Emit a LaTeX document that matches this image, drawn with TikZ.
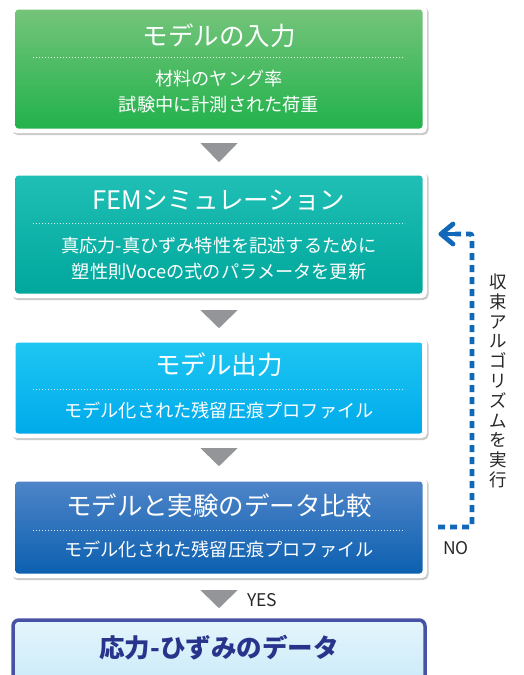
\documentclass[tikz,border=0pt]{standalone}
\usepackage{fontspec}
\setmainfont{Noto Sans CJK JP}
\usetikzlibrary{shadows,arrows.meta,calc}
\definecolor{gtop}{RGB}{116,196,122}
\definecolor{gbot}{RGB}{34,178,76}
\definecolor{ttop}{RGB}{32,191,181}
\definecolor{tbot}{RGB}{0,167,156}
\definecolor{ctop}{RGB}{30,198,242}
\definecolor{cbot}{RGB}{0,170,234}
\definecolor{btop}{RGB}{78,132,200}
\definecolor{bbot}{RGB}{12,96,176}
\definecolor{navy}{RGB}{72,82,165}
\definecolor{navytext}{RGB}{40,52,140}
\definecolor{ltop}{RGB}{228,245,252}
\definecolor{lbot}{RGB}{196,232,248}
\definecolor{trigray}{RGB}{147,149,152}
\definecolor{loopblue}{RGB}{18,104,184}
\definecolor{txtgray}{RGB}{40,40,40}
\tikzset{
  frame/.style={rounded corners=5pt, fill=white, minimum width=416pt,
    drop shadow={shadow xshift=1.5pt, shadow yshift=-2pt, opacity=0.35, fill=black!60}},
  innerbox/.style={rounded corners=3pt, minimum width=407pt},
  ttl/.style={text=white, font=\fontsize{25.5}{28}\selectfont, inner sep=0pt},
  sub/.style={text=white, font=\fontsize{18.2}{26}\selectfont, align=center, inner sep=0pt},
  sep/.style={white, line width=0.9pt, dash pattern=on 0.9pt off 2.1pt, opacity=0.85},
  tri/.style={fill=trigray},
  looppath/.style={draw=loopblue, line width=4.8pt, dash pattern=on 7pt off 5pt},
  loopsolid/.style={draw=loopblue, line width=4.8pt, line cap=round, line join=round},
  lbl/.style={text=txtgray, font=\fontsize{17.5}{20}\selectfont, inner sep=0pt}
}
\begin{document}
\begin{tikzpicture}[x=1pt,y=-1pt]
\useasboundingbox (0,0) rectangle (523,675);
\clip (0,0) rectangle (523,675);
% box 1
\node (b1) [frame, minimum height=128pt] at (219,69) {};
\node (b1i) [innerbox, top color=gtop, bottom color=gbot, minimum height=119pt] at (b1) {};
\node (t1) [ttl] at (219,36) {モデルの入力};
\draw[sep] (33,57) -- (405,57);
\node (s1) [sub] at (219,92) {材料のヤング率\\試験中に計測された荷重};
% box 2
\node (b2) [frame, minimum height=127pt] at (219,234.5) {};
\node (b2i) [innerbox, top color=ttop, bottom color=tbot, minimum height=118pt] at (b2) {};
\node (t2) [ttl] at (219,200) {FEMシミュレーション};
\draw[sep] (33,223) -- (405,223);
\node (s2) [sub] at (219,259) {真応力-真ひずみ特性を記述するために\\塑性則Voceの式のパラメータを更新};
% box 3
\node (b3) [frame, minimum height=100pt] at (219,388) {};
\node (b3i) [innerbox, top color=ctop, bottom color=cbot, minimum height=91pt] at (b3) {};
\node (t3) [ttl] at (219,365) {モデル出力};
\draw[sep] (33,389) -- (405,389);
\node (s3) [sub] at (219,410) {モデル化された残留圧痕プロファイル};
% box 4
\node (b4) [frame, minimum height=101pt] at (219,527.5) {};
\node (b4i) [innerbox, top color=btop, bottom color=bbot, minimum height=92pt] at (b4) {};
\node (t4) [ttl] at (219,506) {モデルと実験のデータ比較};
\draw[sep] (33,530) -- (405,530);
\node (s4) [sub] at (219,549) {モデル化された残留圧痕プロファイル};
% box 5
\node (b5) [draw=navy, line width=3.5pt, rounded corners=6pt, top color=ltop, bottom color=lbot,
  minimum width=412pt, minimum height=80pt,
  drop shadow={shadow xshift=1.5pt, shadow yshift=-2pt, opacity=0.3, fill=black!60}] at (219,660) {};
\node (t5) [text=navytext, font=\fontsize{25.5}{28}\selectfont\bfseries, inner sep=0pt] at (219,648) {応力-ひずみのデータ};
% triangles
\fill[tri] ($(b1.south)+(-18.5,10)$) -- ++(37,0) -- ++(-18.5,19) -- cycle;
\fill[tri] ($(b2.south)+(-18.5,12)$) -- ++(37,0) -- ++(-18.5,18) -- cycle;
\fill[tri] ($(b3.south)+(-18.5,10)$) -- ++(37,0) -- ++(-18.5,18) -- cycle;
\fill[tri] ($(b4.south)+(-18.5,12)$) -- ++(37,0) -- ++(-18.5,18) -- cycle;
\node (yes) [lbl, anchor=west] at (247,600) {YES};
% loop
\coordinate (nostart) at (438,527);
\coordinate (c1) at (472,527);
\coordinate (c2) at (472,234);
\coordinate (tip) at (455,234);
\coordinate (tipend) at (441,234);
\draw[looppath, rounded corners=2pt] (nostart) -- (c1) -- (c2) -- (tip);
\draw[loopsolid] ($(tipend)+(12,-10)$) -- (tipend) -- ($(tipend)+(12,10)$);
\draw[loopsolid] (tipend) -- (tip);
\node (no) [lbl] at (456,548) {NO};
\node (vt) [lbl, align=center, font=\fontsize{17.5}{19.8}\selectfont] at (498,381)
  {収\\束\\ア\\ル\\ゴ\\リ\\ズ\\ム\\を\\実\\行};
\end{tikzpicture}
\end{document}
